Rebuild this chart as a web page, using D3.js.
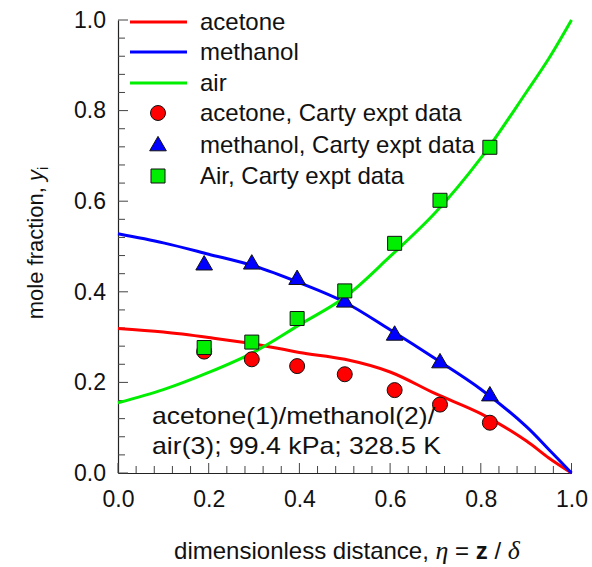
<!DOCTYPE html>
<html><head><meta charset="utf-8">
<script src="https://cdn.jsdelivr.net/npm/d3@7"></script>
<style>body{margin:0;background:#fff;} text{font-family:"Liberation Sans",Arial,sans-serif;}</style>
</head><body>
<svg id="c" width="592" height="567"></svg>
<script>
const etaGrid = [0, 0.1, 0.2, 0.3, 0.4, 0.5, 0.6, 0.7, 0.8, 0.9, 0.95, 1.0];
const acetoneModel  = [0.319, 0.311, 0.299, 0.285, 0.266, 0.251, 0.223, 0.175, 0.131, 0.071, 0.033, 0];
const methanolModel = [0.528, 0.508, 0.483, 0.457, 0.420, 0.377, 0.316, 0.252, 0.185, 0.103, 0.052, 0];
const airModel      = [0.155, 0.184, 0.222, 0.267, 0.327, 0.388, 0.478, 0.575, 0.695, 0.840, 0.915, 1.0];

const etaExpt = [0.19, 0.295, 0.395, 0.5, 0.61, 0.71, 0.82];
const acetoneExpt  = [0.268, 0.251, 0.236, 0.218, 0.183, 0.151, 0.111];
const methanolExpt = [0.461, 0.463, 0.429, 0.379, 0.306, 0.245, 0.172];
const airExpt      = [0.277, 0.289, 0.341, 0.402, 0.507, 0.602, 0.719];

const tickVals = [0, 0.2, 0.4, 0.6, 0.8, 1.0];
const legendLabels = ["acetone", "methanol", "air", "acetone, Carty expt data", "methanol, Carty expt data", "Air, Carty expt data"];

const svg = d3.select("#c");
const x = d3.scaleLinear().domain([0, 1]).range([118, 571.5]);
const y = d3.scaleLinear().domain([0, 1]).range([473, 20]);

const minorTicks = d3.range(0, 1.0001, 0.04).map(v => +v.toFixed(2));

// axes
const xAx = svg.append("g").attr("transform", `translate(0,${y(0)})`)
  .call(d3.axisBottom(x).tickValues(tickVals).tickSize(0).tickPadding(18).tickFormat(d3.format(".1f")));
const yAx = svg.append("g").attr("transform", `translate(${x(0)},0)`)
  .call(d3.axisLeft(y).tickValues(tickVals).tickSize(0).tickPadding(12).tickFormat(d3.format(".1f")));
[xAx, yAx].forEach(g => {
  g.select(".domain").attr("stroke", "#222").attr("stroke-width", 1.2);
  g.selectAll("text").attr("font-size", 23).attr("fill", "#111").attr("font-family", '"Liberation Sans",Arial,sans-serif');
});
// inward ticks
const isMajor = v => Math.abs(v * 5 - Math.round(v * 5)) < 1e-6;
svg.append("g").selectAll("line").data(minorTicks).join("line")
  .attr("x1", d => x(d)).attr("x2", d => x(d))
  .attr("y1", y(0)).attr("y2", d => y(0) - (isMajor(d) ? 10 : 7))
  .attr("stroke", "#444").attr("stroke-width", 1);
svg.append("g").selectAll("line").data(minorTicks).join("line")
  .attr("y1", d => y(d)).attr("y2", d => y(d))
  .attr("x1", x(0)).attr("x2", d => x(0) + (isMajor(d) ? 10 : 7))
  .attr("stroke", "#444").attr("stroke-width", 1);

// model lines
const line = d3.line().x(d => x(d[0])).y(d => y(d[1])).curve(d3.curveCatmullRom.alpha(0.5));
const series = [
  {vals: acetoneModel, color: "#ff0000"},
  {vals: methanolModel, color: "#0000ff"},
  {vals: airModel, color: "#00ee00"}
];
series.forEach(s => {
  svg.append("path").datum(etaGrid.map((e, i) => [e, s.vals[i]]))
    .attr("d", line).attr("fill", "none").attr("stroke", s.color).attr("stroke-width", 3);
});

// markers
const symCircle = d3.symbol().type(d3.symbolCircle).size(Math.PI * 7.5 * 7.5);
const symTri = d3.symbol().type(d3.symbolTriangle).size(120);
const symSq = d3.symbol().type(d3.symbolSquare).size(196);

svg.append("g").selectAll("path").data(etaExpt.map((e, i) => [e, acetoneExpt[i]])).join("path")
  .attr("d", symCircle).attr("transform", d => `translate(${x(d[0])},${y(d[1])})`)
  .attr("fill", "#ff0000").attr("stroke", "#111").attr("stroke-width", 1);
svg.append("g").selectAll("path").data(etaExpt.map((e, i) => [e, methanolExpt[i]])).join("path")
  .attr("d", symTri).attr("transform", d => `translate(${x(d[0])},${y(d[1]) + 1})`)
  .attr("fill", "#0000ff").attr("stroke", "#111").attr("stroke-width", 1);
svg.append("g").selectAll("path").data(etaExpt.map((e, i) => [e, airExpt[i]])).join("path")
  .attr("d", symSq).attr("transform", d => `translate(${x(d[0])},${y(d[1])})`)
  .attr("fill", "#00ee00").attr("stroke", "#111").attr("stroke-width", 1);

// legend
const lg = svg.append("g");
const rowsY = [22, 52, 83, 113, 145, 176];
[0, 1, 2].forEach(i => {
  lg.append("line").attr("x1", 130).attr("x2", 187).attr("y1", rowsY[i]).attr("y2", rowsY[i])
    .attr("stroke", series[i].color).attr("stroke-width", 3);
});
lg.append("path").attr("d", symCircle).attr("transform", `translate(158,${rowsY[3]})`)
  .attr("fill", "#ff0000").attr("stroke", "#111");
lg.append("path").attr("d", symTri).attr("transform", `translate(158,${rowsY[4] + 1})`)
  .attr("fill", "#0000ff").attr("stroke", "#111");
lg.append("path").attr("d", symSq).attr("transform", `translate(158,${rowsY[5]})`)
  .attr("fill", "#00ee00").attr("stroke", "#111");
legendLabels.forEach((t, i) => {
  lg.append("text").attr("x", 200).attr("y", rowsY[i]).attr("dy", "0.35em")
    .attr("font-size", 24).attr("fill", "#111").text(t);
});

// annotation
svg.append("text").attr("x", 152).attr("y", 424).attr("font-size", 24).attr("fill", "#111")
  .attr("textLength", 283).attr("lengthAdjust", "spacingAndGlyphs").text("acetone(1)/methanol(2)/");
svg.append("text").attr("x", 152).attr("y", 453.5).attr("font-size", 24).attr("fill", "#111")
  .attr("textLength", 289).attr("lengthAdjust", "spacingAndGlyphs").text("air(3); 99.4 kPa; 328.5 K");

// x label
const xl = svg.append("text").attr("x", 347).attr("y", 559).attr("text-anchor", "middle").attr("font-size", 24).attr("fill", "#111");
xl.append("tspan").text("dimensionless distance, ");
xl.append("tspan").attr("font-family", '"Liberation Serif","Times New Roman",serif').attr("font-style", "italic").attr("font-size", 26).text("η");
xl.append("tspan").text(" = ");
xl.append("tspan").attr("font-weight", "bold").text("z");
xl.append("tspan").text(" / ");
xl.append("tspan").attr("font-family", '"Liberation Serif","Times New Roman",serif').attr("font-style", "italic").attr("font-size", 26).text("δ");

// y label
const yl = svg.append("text").attr("transform", "translate(43,243) rotate(-90)").attr("text-anchor", "middle").attr("font-size", 22).attr("fill", "#111");
yl.append("tspan").text("mole fraction, ");
yl.append("tspan").attr("font-style", "italic").text("y");
yl.append("tspan").attr("font-size", 15).attr("dy", 5).text("i");
</script>
</body></html>
